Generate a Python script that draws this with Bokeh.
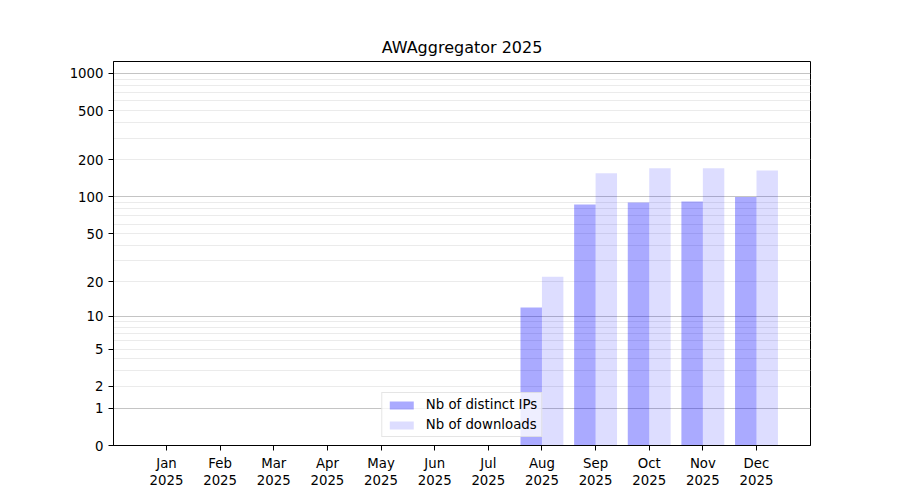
import numpy as np
from bokeh.plotting import figure
from bokeh.models import Range1d, FixedTicker, Grid, Legend, LegendItem, ColumnDataSource
from bokeh.embed import file_html
from bokeh.resources import INLINE

months = ["Jan", "Feb", "Mar", "Apr", "May", "Jun", "Jul", "Aug", "Sep", "Oct", "Nov", "Dec"]
year = "2025"
distinct_ips = [0, 0, 0, 0, 0, 0, 0, 12, 87, 90, 92, 100]
downloads = [0, 0, 0, 0, 0, 0, 0, 22, 156, 171, 171, 164]
y_tick_values = [0, 1, 2, 5, 10, 20, 50, 100, 200, 500, 1000]
major_grid_values = [1, 10, 100, 1000]
minor_grid_values = [2, 3, 4, 5, 6, 7, 8, 9, 20, 30, 40, 50, 60, 70, 80, 90,
                     200, 300, 400, 500, 600, 700, 800, 900]

def tr(v):
    return np.log10(1 + np.asarray(v, dtype=float))

FONT = "DejaVu Sans"
FS = "13.3px"
x = np.arange(len(months))

p = figure(width=900, height=500, output_backend="svg", toolbar_location=None,
           x_range=Range1d(-0.988, 12.007), y_range=Range1d(0, 3.097),
           min_border_left=113, min_border_right=90, min_border_top=61, min_border_bottom=55)

p.title.text = "AWAggregator 2025"
p.title.align = "center"
p.title.text_font = FONT
p.title.text_font_size = "16px"
p.title.text_font_style = "normal"
p.title.text_color = "black"
p.title.offset = 0
p.title.standoff = 10

src = ColumnDataSource(dict(x1=x - 0.2, x2=x + 0.2, ips=tr(distinct_ips), dl=tr(downloads)))
r1 = p.vbar(x="x1", top="ips", bottom=0, width=0.4, source=src,
            fill_color="blue", fill_alpha=0.333, line_color=None)
r2 = p.vbar(x="x2", top="dl", bottom=0, width=0.4, source=src,
            fill_color="blue", fill_alpha=0.133, line_color=None)

# grids
p.xgrid.visible = False
p.ygrid.visible = False
minor = Grid(dimension=1, ticker=FixedTicker(ticks=list(tr(minor_grid_values))),
             grid_line_color="#ebebeb", grid_line_width=1)
major = Grid(dimension=1, ticker=FixedTicker(ticks=list(tr(major_grid_values))),
             grid_line_color="#c4c4c4", grid_line_width=1)
p.add_layout(minor)
p.add_layout(major)

# axes
p.xaxis.ticker = FixedTicker(ticks=list(x))
p.xaxis.major_label_overrides = {int(i): f"{m}\n{year}" for i, m in zip(x, months)}
yt = list(tr(y_tick_values))
p.yaxis.ticker = FixedTicker(ticks=yt)
p.yaxis.major_label_overrides = {float(t): str(v) for t, v in zip(yt, y_tick_values)}
for ax in (p.xaxis[0], p.yaxis[0]):
    ax.major_label_text_font = FONT
    ax.major_label_text_font_size = FS
    ax.major_label_text_color = "black"
    ax.major_tick_in = 0
    ax.major_tick_out = 5
    ax.minor_tick_in = 0
    ax.minor_tick_out = 0
    ax.axis_line_color = "black"
    ax.major_tick_line_color = "black"
    ax.major_label_standoff = 5
p.xaxis.major_label_text_line_height = 1.15
p.outline_line_color = "black"
p.outline_line_width = 1
p.outline_line_alpha = 1

legend = Legend(items=[LegendItem(label="Nb of distinct IPs", renderers=[r1]),
                       LegendItem(label="Nb of downloads", renderers=[r2])],
                location="bottom_center", margin=8, padding=4, spacing=5,
                glyph_height=10, glyph_width=30, label_height=14, label_standoff=10,
                label_text_font=FONT, label_text_font_size=FS, label_text_color="black",
                border_line_color="#cccccc", background_fill_alpha=0.8)
p.add_layout(legend)

open("out.html", "w").write(file_html(p, INLINE))
